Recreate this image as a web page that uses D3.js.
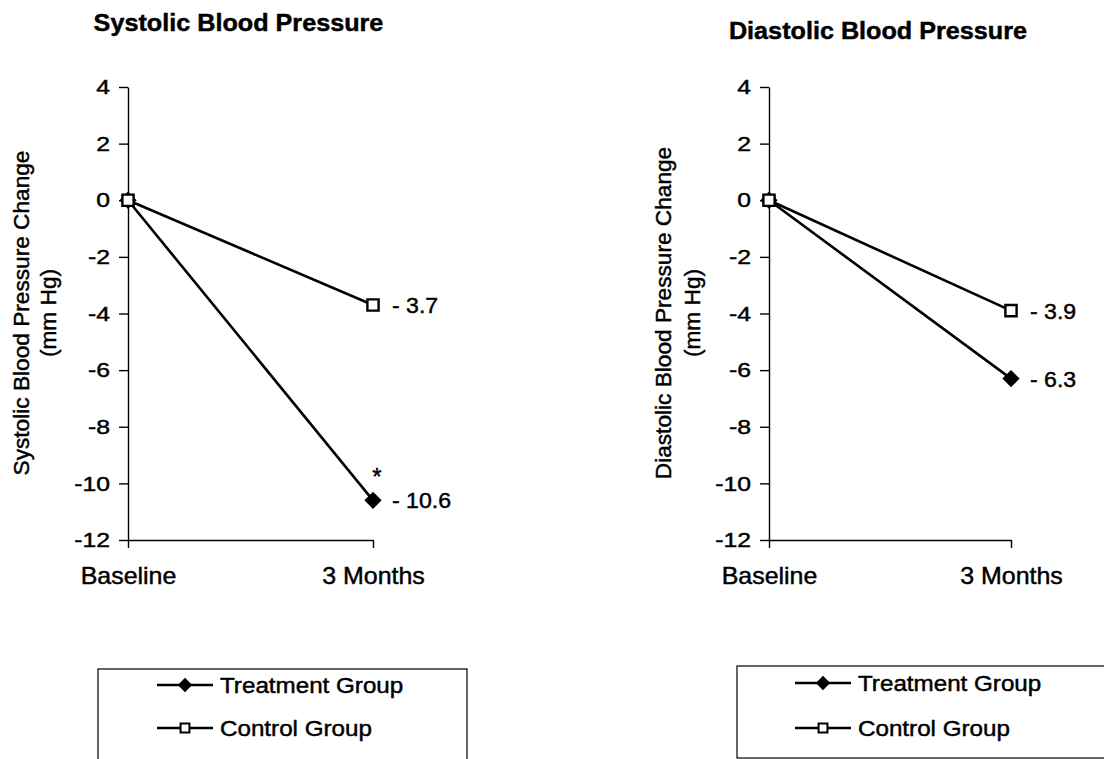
<!DOCTYPE html>
<html>
<head>
<meta charset="utf-8">
<script src="https://cdn.jsdelivr.net/npm/d3@7"></script>
<style>
  body { margin: 0; background: #fff; }
  text { font-family: "Liberation Sans", Arial, sans-serif; fill: #000; stroke: #000; stroke-width: 0.45px; }
</style>
</head>
<body>
<script>
// values
var months = ["Baseline", "3 Months"];
var yTicks = [4, 2, 0, -2, -4, -6, -8, -10, -12];
var systolicTreatment = [0, -10.6];
var systolicControl = [0, -3.7];
var diastolicTreatment = [0, -6.3];
var diastolicControl = [0, -3.9];
var groups = ["Treatment Group", "Control Group"];

var svg = d3.select("body").append("svg")
  .attr("width", 1104)
  .attr("height", 759);

// helper: text that is a bit wider than Liberation Sans, like the scan
var txt = function(g, x, y, s, size, sx, anchor, weight) {
  return g.append("text")
    .attr("transform", "translate(" + x + "," + y + ") scale(" + sx + ",1)")
    .attr("text-anchor", anchor || "start")
    .style("font-size", size + "px")
    .style("font-weight", weight || "normal")
    .text(s);
};

var diamond = d3.symbol().type(d3.symbolDiamond2);
var square = d3.symbol().type(d3.symbolSquare2);

var drawPanel = function(p) {
  var g = svg.append("g");
  var x = d3.scalePoint().domain(months).range([p.x0, p.x1]);
  var y = d3.scaleLinear().domain([-12, 4]).range([540, 87]);

  txt(g, (p.x0 + p.x1) / 2 - 12, p.titleY, p.title, 24, 1.05, "middle", "bold");

  // y axis
  var ya = g.append("g")
    .attr("transform", "translate(" + p.x0 + ",0)")
    .call(d3.axisLeft(y).tickValues(yTicks).tickSize(9).tickPadding(9).tickSizeOuter(0)
      .tickFormat(d3.format("d")));
  ya.selectAll("text")
    .style("font-size", "21px")
    .attr("x", -18 / 1.18)
    .attr("transform", "scale(1.18,1)")
    .text(function(d) { return d < 0 ? "-" + Math.abs(d) : d; });

  // x axis
  var xa = g.append("g")
    .attr("transform", "translate(0," + y(-12) + ")")
    .call(d3.axisBottom(x).tickSize(8).tickPadding(19).tickSizeOuter(0));
  xa.selectAll("text")
    .style("font-size", "24px")
    .attr("transform", "scale(1.04,1)");

  g.selectAll(".domain, .tick line").attr("stroke", "#000").attr("stroke-width", 1.4);

  // y axis title, two lines
  var yl = g.append("g")
    .attr("transform", "translate(0,313) rotate(-90)");
  txt(yl, 0, p.labX1, p.ylabel, 22, 1.03, "middle");
  txt(yl, 0, p.labX2, "(mm Hg)", 22, 1.03, "middle");

  var line = d3.line()
    .x(function(d, i) { return x(months[i]); })
    .y(function(d) { return y(d); });

  // treatment first so the baseline square sits on top
  g.append("path").datum(p.treat).attr("d", line)
    .attr("fill", "none").attr("stroke", "#000").attr("stroke-width", 2.6);
  g.append("path").datum(p.ctrl).attr("d", line)
    .attr("fill", "none").attr("stroke", "#000").attr("stroke-width", 2.6);

  g.selectAll(".tr").data(p.treat).enter().append("path")
    .attr("d", diamond.size(190))
    .attr("transform", function(d, i) { return "translate(" + x(months[i]) + "," + y(d) + ")"; })
    .attr("fill", "#000");
  g.selectAll(".ct").data(p.ctrl).enter().append("path")
    .attr("d", square.size(160))
    .attr("transform", function(d, i) { return "translate(" + x(months[i]) + "," + y(d) + ")"; })
    .attr("fill", "#fff").attr("stroke", "#000").attr("stroke-width", 2.4);

  // end value labels
  [p.treat[1], p.ctrl[1]].forEach(function(v) {
    txt(g, p.x1 + 19, y(v) + 8, "- " + Math.abs(v), 22, 1.05, "start");
  });
  if (p.star) {
    txt(g, p.x1 + 4, y(p.treat[1]) - 15, "*", 24, 1.0, "middle");
  }

  // legend
  var lg = g.append("g");
  lg.append("rect")
    .attr("x", p.legX).attr("y", p.legY)
    .attr("width", 369).attr("height", 92)
    .attr("fill", "none").attr("stroke", "#000").attr("stroke-width", 1.2);
  groups.forEach(function(name, i) {
    var ry = p.rows[i];
    lg.append("line")
      .attr("x1", p.legLine).attr("x2", p.legLine + 56)
      .attr("y1", ry).attr("y2", ry)
      .attr("stroke", "#000").attr("stroke-width", 2.4);
    lg.append("path")
      .attr("d", i === 0 ? diamond.size(130)() : square.size(100)())
      .attr("transform", "translate(" + (p.legLine + 28) + "," + ry + ")")
      .attr("fill", i === 0 ? "#000" : "#fff")
      .attr("stroke", "#000").attr("stroke-width", i === 0 ? 0 : 2);
    txt(lg, p.legLine + 63, ry + 8, name, 22, 1.1, "start");
  });
};

drawPanel({
  title: "Systolic Blood Pressure", titleY: 31,
  ylabel: "Systolic Blood Pressure Change", labX1: 29, labX2: 56,
  x0: 128, x1: 373,
  treat: systolicTreatment, ctrl: systolicControl, star: true,
  legX: 98, legY: 669, legLine: 157, rows: [685, 728]
});

drawPanel({
  title: "Diastolic Blood Pressure", titleY: 39,
  ylabel: "Diastolic Blood Pressure Change", labX1: 671, labX2: 700,
  x0: 769, x1: 1011,
  treat: diastolicTreatment, ctrl: diastolicControl, star: false,
  legX: 737, legY: 666, legLine: 795, rows: [683, 728]
});
</script>
</body>
</html>
